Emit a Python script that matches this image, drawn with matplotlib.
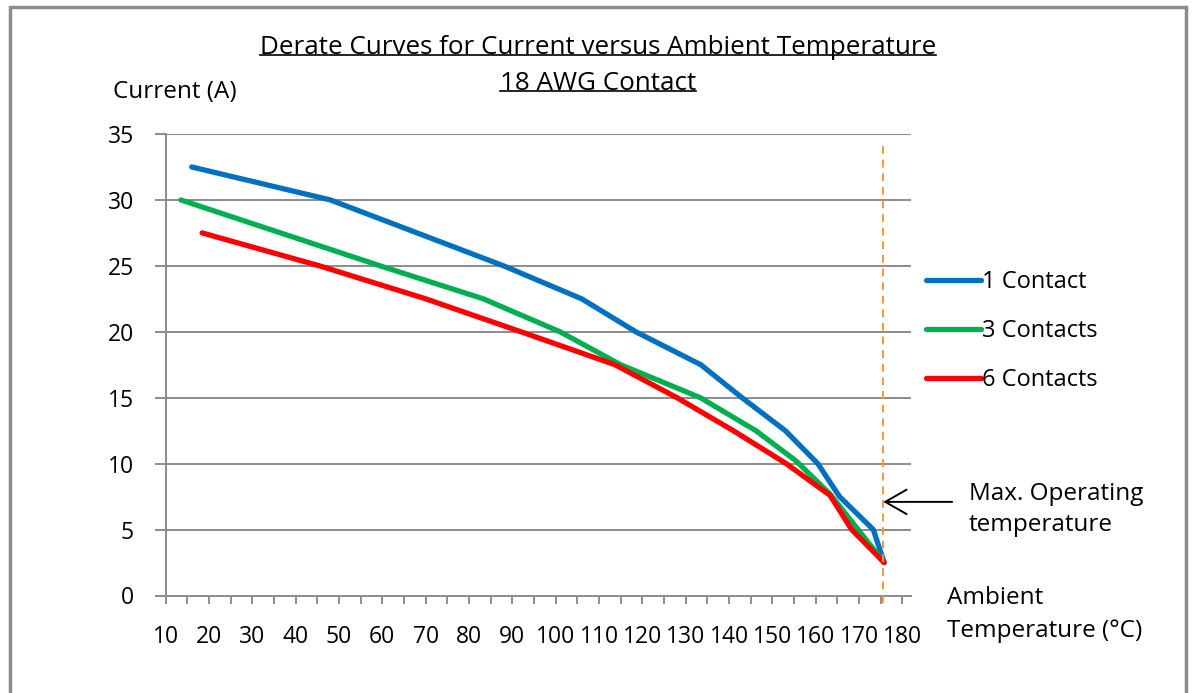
import matplotlib
matplotlib.use('Agg')
import matplotlib.pyplot as plt
from matplotlib.lines import Line2D
from matplotlib.patches import Rectangle
from matplotlib.ticker import MultipleLocator

matplotlib.rcParams['font.family'] = ['Open Sans', 'DejaVu Sans']
matplotlib.rcParams['font.size'] = 16.5

# data
temp_1 = [16, 48, 88, 106, 118.5, 133.5, 143, 153, 160.5, 165.5, 173.3, 175.8]
curr_1 = [32.5, 30, 25, 22.5, 20, 17.5, 15, 12.5, 10, 7.5, 5, 2.5]
temp_3 = [13.5, 59.5, 83.3, 101, 115, 133.4, 146.2, 155.5, 163.3, 175.8]
curr_3 = [30, 25, 22.5, 20, 17.5, 15, 12.5, 10.2, 7.7, 2.5]
temp_6 = [18.4, 45.5, 70, 92, 113.7, 128, 141, 153.2, 163.3, 168.3, 175.8]
curr_6 = [27.5, 25, 22.5, 20, 17.5, 15, 12.5, 10, 7.6, 5, 2.5]
labels = ['1 Contact', '3 Contacts', '6 Contacts']
colors = ['#0070C0', '#00B050', '#FF0000']
max_temp = 175.6
arrow_y = 7.1

W, H = 1192, 693
def fx(px):
    return px / W
def fy(py):
    return 1 - py / H

fig = plt.figure(figsize=(W / 100, H / 100), dpi=100)
fig.patches.append(Rectangle((fx(10), fy(700)), fx(1176), 1, transform=fig.transFigure,
                             fill=False, edgecolor='#8c8c8c', linewidth=2.5))

ax = fig.add_axes([fx(165.7), fy(595.5), fx(911 - 165.7), (595.5 - 134) / H])
gridc = '#8c8c8c'
for t, c, col, lab in zip([temp_1, temp_3, temp_6], [curr_1, curr_3, curr_6], colors, labels):
    ax.plot(t, c, color=col, linewidth=3.8, solid_capstyle='round', solid_joinstyle='round', label=lab, zorder=3)

ax.plot([max_temp, max_temp], [-0.6, 34.2], color='#F79646', linestyle=(0, (4, 3)),
        linewidth=1.4, clip_on=False, zorder=4)
ax.annotate('', xy=(max_temp, arrow_y), xytext=(191.5, arrow_y),
            arrowprops=dict(arrowstyle='->,head_length=0.7,head_width=0.4', color='black', lw=1.4,
                            mutation_scale=22, shrinkA=0, shrinkB=0), annotation_clip=False)

ax.set_xlim(10, 182)
ax.set_ylim(0, 35)
ax.xaxis.set_major_locator(MultipleLocator(10))
ax.xaxis.set_minor_locator(MultipleLocator(5))
ax.yaxis.set_major_locator(MultipleLocator(5))
ax.grid(axis='y', color=gridc, linewidth=1.4)
ax.set_axisbelow(True)
for s in ['top', 'right']:
    ax.spines[s].set_visible(False)
for s in ['left', 'bottom']:
    ax.spines[s].set_color(gridc)
    ax.spines[s].set_linewidth(1.4)
ax.tick_params(axis='x', which='both', direction='out', length=6, width=1.4, color=gridc, pad=15)
ax.tick_params(axis='y', direction='out', length=8, width=1.4, color=gridc, pad=15)
ax.set_xticks(range(10, 181, 10))

leg = ax.legend(loc='upper left', bbox_to_anchor=(fx(905), fy(249)), bbox_transform=fig.transFigure,
                frameon=False, handlelength=2.3, handletextpad=0.05, labelspacing=1.05, fontsize=17)

fig.text(fx(113), fy(92), 'Current (A)', ha='left', va='center', fontsize=17.5)
fig.text(fx(947), fy(598), 'Ambient', ha='left', va='center', fontsize=17.5)
fig.text(fx(947), fy(631), 'Temperature (°C)', ha='left', va='center', fontsize=17.5)
fig.text(fx(969), fy(494), 'Max. Operating', ha='left', va='center', fontsize=17.5)
fig.text(fx(969), fy(525), 'temperature', ha='left', va='center', fontsize=17.5)

t1 = fig.text(fx(598), fy(47), 'Derate Curves for Current versus Ambient Temperature',
              ha='center', va='center', fontsize=18.7)
t2 = fig.text(fx(598), fy(83), '18 AWG Contact', ha='center', va='center', fontsize=18.7)
fig.canvas.draw()
r = fig.canvas.get_renderer()
for t in [t1, t2]:
    bb = t.get_window_extent(r).transformed(fig.transFigure.inverted())
    fig.lines.append(Line2D([bb.x0, bb.x1], [bb.y0 + 0.006, bb.y0 + 0.006], transform=fig.transFigure,
                            color='black', linewidth=1.2))

fig.savefig('out.png', dpi=100)
